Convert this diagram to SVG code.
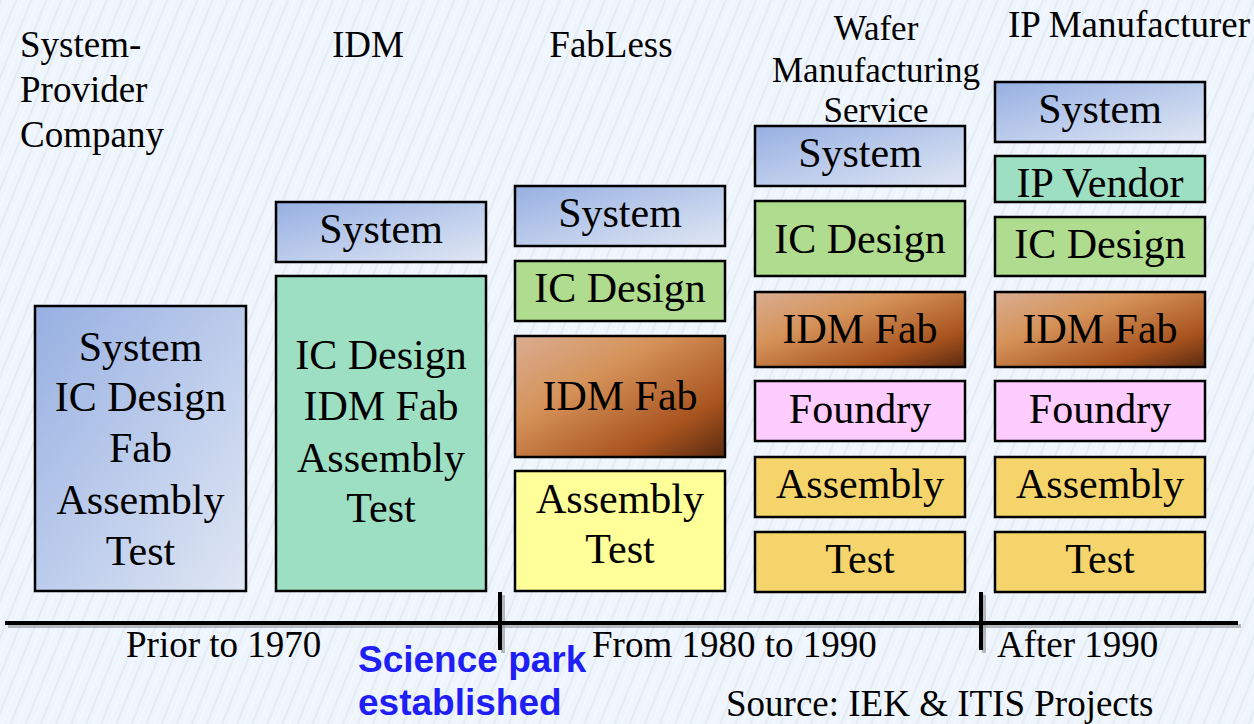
<svg xmlns="http://www.w3.org/2000/svg" width="1254" height="724" viewBox="0 0 1254 724">
<defs>
<pattern id="bgstripe" width="14" height="14" patternUnits="userSpaceOnUse" patternTransform="rotate(22)">
<rect width="14" height="14" fill="#eef5fc"/>
<rect x="0" y="0" width="2" height="14" fill="#e5ebf2"/>
<rect x="7" y="0" width="1" height="14" fill="#f6faff"/>
</pattern>
<linearGradient id="gSys" x1="0" y1="0" x2="1" y2="1">
<stop offset="0" stop-color="#97b0e2"/>
<stop offset="1" stop-color="#e0e7f4"/>
</linearGradient>
<linearGradient id="gFab" x1="0" y1="0" x2="1" y2="1">
<stop offset="0" stop-color="#d9ad92"/>
<stop offset="0.35" stop-color="#d5935a"/>
<stop offset="0.75" stop-color="#a9541f"/>
<stop offset="1" stop-color="#5a2a10"/>
</linearGradient>
<style>
.box{stroke:#000;stroke-width:2.5}
.sys{fill:url(#gSys)}
.fab{fill:url(#gFab)}
.icd{fill:#afdc8e}
.mint{fill:#9ddfc2}
.fnd{fill:#ffccff}
.gold{fill:#f6d46c}
.yel{fill:#ffff99}
.t{font-family:"Liberation Serif","Times New Roman",serif;font-size:42px;fill:#000;text-anchor:middle}
.h{font-family:"Liberation Serif","Times New Roman",serif;font-size:37px;fill:#000}
.hs{font-size:35px}
.blue{font-family:"Liberation Sans",Arial,sans-serif;font-weight:bold;font-size:37px;fill:#1f1ff5}
.ln{stroke:#000;stroke-width:4;fill:none}
.sh{stroke:#8a8f96;stroke-width:4;fill:none;opacity:0.6}
</style>
</defs>
<rect width="1254" height="724" fill="url(#bgstripe)"/>

<g id="titles">
<text class="h" x="20" y="57">System-</text>
<text class="h" x="20" y="102">Provider</text>
<text class="h" x="20" y="147">Company</text>
<text class="h" x="368" y="57" text-anchor="middle">IDM</text>
<text class="h" x="611" y="57" text-anchor="middle">FabLess</text>
<text class="h hs" x="876" y="40" text-anchor="middle">Wafer</text>
<text class="h hs" x="876" y="82" text-anchor="middle">Manufacturing</text>
<text class="h hs" x="876" y="122" text-anchor="middle">Service</text>
<text class="h" x="1129" y="37" text-anchor="middle">IP Manufacturer</text>
</g>

<g id="col1">
<rect class="box sys" x="35" y="306" width="211" height="285"/>
<text class="t" x="140.5" y="361">System</text>
<text class="t" x="140.5" y="411">IC Design</text>
<text class="t" x="140.5" y="462">Fab</text>
<text class="t" x="140.5" y="514">Assembly</text>
<text class="t" x="140.5" y="565">Test</text>
</g>

<g id="col2">
<g id="c2-system"><rect class="box sys" x="276" y="202" width="210" height="60"/>
<text class="t" x="381" y="243">System</text></g>
<g id="c2-idm"><rect class="box mint" x="276" y="276" width="210" height="315"/>
<text class="t" x="381" y="369">IC Design</text>
<text class="t" x="381" y="420">IDM Fab</text>
<text class="t" x="381" y="472">Assembly</text>
<text class="t" x="381" y="522">Test</text></g>
</g>

<g id="col3">
<g id="c3-system"><rect class="box sys" x="515" y="186" width="210" height="60"/>
<text class="t" x="620" y="227">System</text></g>
<g id="c3-icd"><rect class="box icd" x="515" y="261" width="210" height="60"/>
<text class="t" x="620" y="302">IC Design</text></g>
<g id="c3-fab"><rect class="box fab" x="515" y="336" width="210" height="121"/>
<text class="t" x="620" y="410">IDM Fab</text></g>
<g id="c3-at"><rect class="box yel" x="515" y="471" width="210" height="120"/>
<text class="t" x="620" y="513">Assembly</text>
<text class="t" x="620" y="563">Test</text></g>
</g>

<g id="col4">
<g id="c4-system"><rect class="box sys" x="755" y="126" width="210" height="60"/>
<text class="t" x="860" y="167">System</text></g>
<g id="c4-icd"><rect class="box icd" x="755" y="201" width="210" height="75"/>
<text class="t" x="860" y="253">IC Design</text></g>
<g id="c4-fab"><rect class="box fab" x="755" y="292" width="210" height="75"/>
<text class="t" x="860" y="343">IDM Fab</text></g>
<g id="c4-fnd"><rect class="box fnd" x="755" y="381" width="210" height="60"/>
<text class="t" x="860" y="423">Foundry</text></g>
<g id="c4-asm"><rect class="box gold" x="755" y="457" width="210" height="60"/>
<text class="t" x="860" y="498">Assembly</text></g>
<g id="c4-test"><rect class="box gold" x="755" y="532" width="210" height="60"/>
<text class="t" x="860" y="573">Test</text></g>
</g>

<g id="col5">
<g id="c5-system"><rect class="box sys" x="995" y="82" width="210" height="60"/>
<text class="t" x="1100" y="123">System</text></g>
<g id="c5-ip"><rect class="box mint" x="995" y="156" width="210" height="46"/>
<text class="t" x="1100" y="197">IP Vendor</text></g>
<g id="c5-icd"><rect class="box icd" x="995" y="217" width="210" height="59"/>
<text class="t" x="1100" y="258">IC Design</text></g>
<g id="c5-fab"><rect class="box fab" x="995" y="292" width="210" height="75"/>
<text class="t" x="1100" y="343">IDM Fab</text></g>
<g id="c5-fnd"><rect class="box fnd" x="995" y="381" width="210" height="60"/>
<text class="t" x="1100" y="423">Foundry</text></g>
<g id="c5-asm"><rect class="box gold" x="995" y="457" width="210" height="60"/>
<text class="t" x="1100" y="498">Assembly</text></g>
<g id="c5-test"><rect class="box gold" x="995" y="532" width="210" height="60"/>
<text class="t" x="1100" y="573">Test</text></g>
</g>

<g id="timeline">
<line class="sh" x1="8" y1="626" x2="1241" y2="626"/>
<line class="sh" x1="503" y1="595" x2="503" y2="653"/>
<line class="sh" x1="984" y1="595" x2="984" y2="653"/>
<line class="ln" x1="5" y1="623" x2="1238" y2="623"/>
<line class="ln" x1="500" y1="592" x2="500" y2="650"/>
<line class="ln" x1="981" y1="592" x2="981" y2="650"/>
</g>

<g id="labels">
<text class="h" x="126" y="657">Prior to 1970</text>
<text class="h" x="592" y="657">From 1980 to 1990</text>
<text class="h" x="997" y="657">After 1990</text>
<text class="h" x="726" y="716">Source: IEK &amp; ITIS Projects</text>
<text class="blue" x="358" y="672">Science park</text>
<text class="blue" x="358" y="715">established</text>
</g>
</svg>
